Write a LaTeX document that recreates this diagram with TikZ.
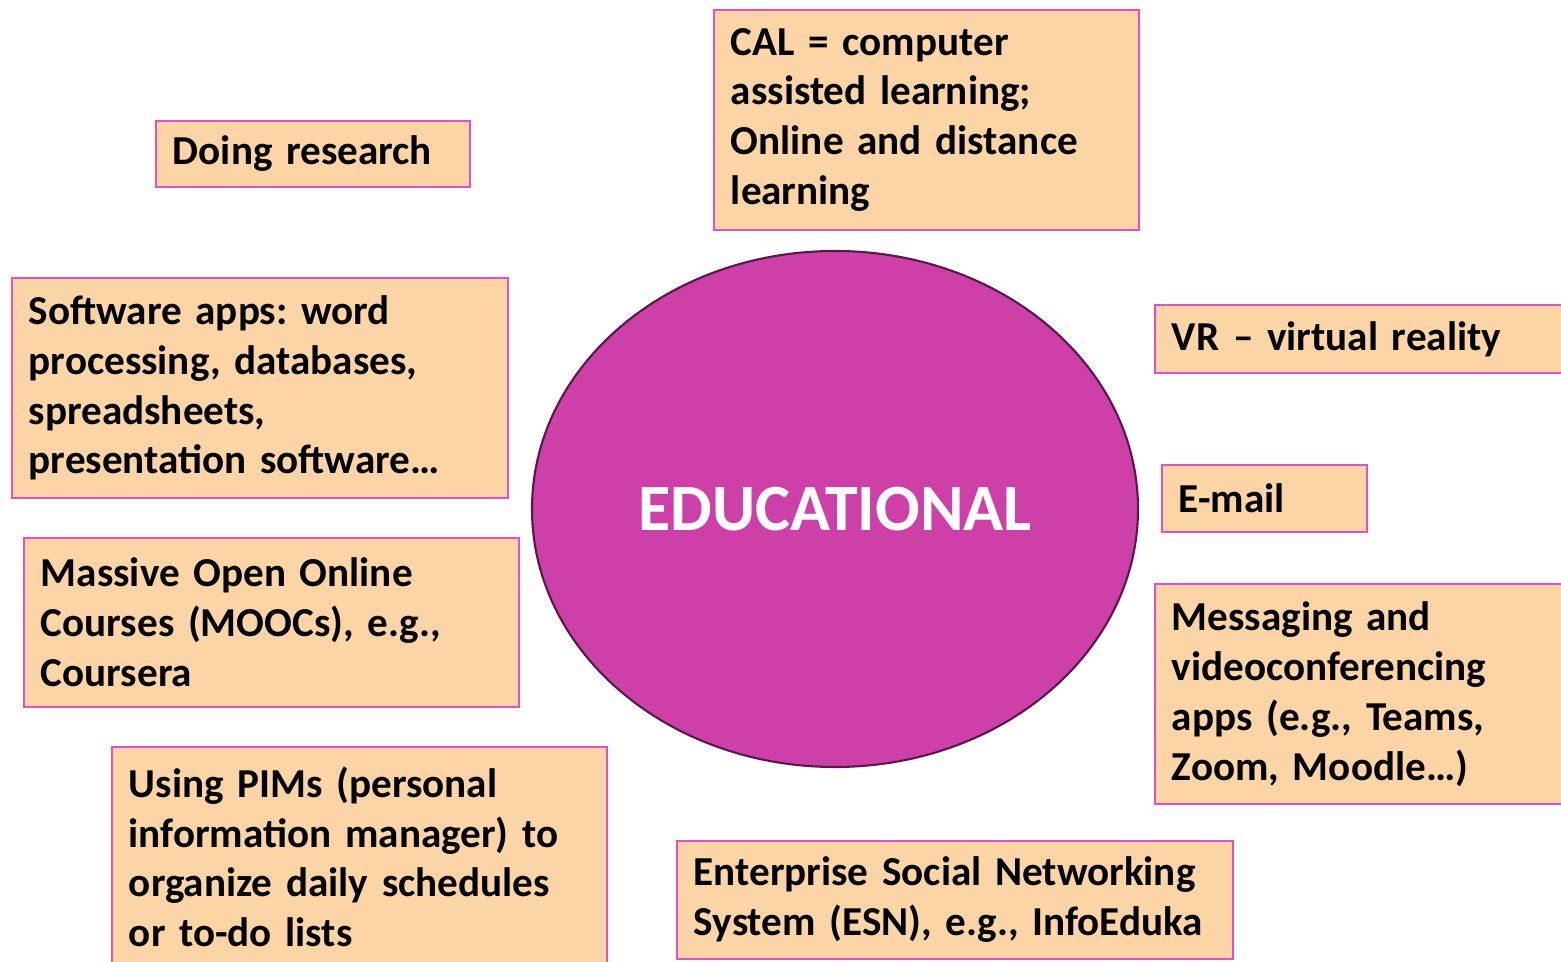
\documentclass[tikz,border=0pt]{standalone}
\usepackage{fontspec}
\setmainfont{Carlito}
\usetikzlibrary{shapes.geometric}

\definecolor{peach}{RGB}{251,213,166}
\definecolor{pinkline}{RGB}{222,82,196}
\definecolor{edufill}{RGB}{205,64,168}
\definecolor{eduline}{RGB}{90,24,74}

\tikzset{
  card/.style={draw=pinkline, line width=0.5pt, fill=peach, anchor=north west,
    align=left, inner xsep=0.17cm, inner ysep=0pt,
    font=\fontsize{11.7pt}{14.2pt}\selectfont\bfseries\frenchspacing},
  hub/.style={ellipse, draw=eduline, line width=0.6pt, fill=edufill, inner sep=0pt,
    text=white, font=\fontsize{18.8pt}{22pt}\selectfont\bfseries}
}

\begin{document}
\begin{tikzpicture}
    \clip (0,0) rectangle (15.61,-9.62);
    \fill[white] (0,0) rectangle (15.61,-9.62);
    % centre
    \node[hub, minimum width=6.06cm, minimum height=5.16cm] (edu) at (8.35,-5.09) {EDUCATIONAL};
    % left side
    \node[card, text width=2.80cm, minimum height=0.66cm] (research) at (1.55,-1.20) {Doing research};
    \node[card, text width=4.62cm, minimum height=2.20cm] (apps) at (0.11,-2.77)
        {Software apps: word\\processing, databases,\\spreadsheets,\\presentation software\dots};
    \node[card, text width=4.61cm, minimum height=1.69cm] (mooc) at (0.23,-5.37)
        {Massive Open Online\\Courses (MOOCs), e.g.,\\Coursera};
    \node[card, text width=4.61cm, minimum height=2.20cm] (pims) at (1.11,-7.46)
        {Using PIMs (personal\\information manager) to\\organize daily schedules\\or to-do lists};
    % top and bottom
    \node[card, text width=3.91cm, minimum height=2.20cm] (cal) at (7.13,-0.09)
        {CAL = computer\\assisted learning;\\Online and distance\\learning};
    \node[card, text width=5.22cm, minimum height=1.18cm] (esn) at (6.76,-8.40)
        {Enterprise Social Networking\\System (ESN), e.g., InfoEduka};
    % right side
    \node[card, text width=3.86cm, minimum height=0.68cm] (vr) at (11.54,-3.04) {VR -- virtual reality};
    \node[card, text width=1.71cm, minimum height=0.67cm] (email) at (11.61,-4.64) {E-mail};
    \node[card, text width=3.86cm, minimum height=2.20cm] (msg) at (11.54,-5.83)
        {Messaging and\\videoconferencing\\apps (e.g., Teams,\\Zoom, Moodle\dots)};
\end{tikzpicture}
\end{document}
